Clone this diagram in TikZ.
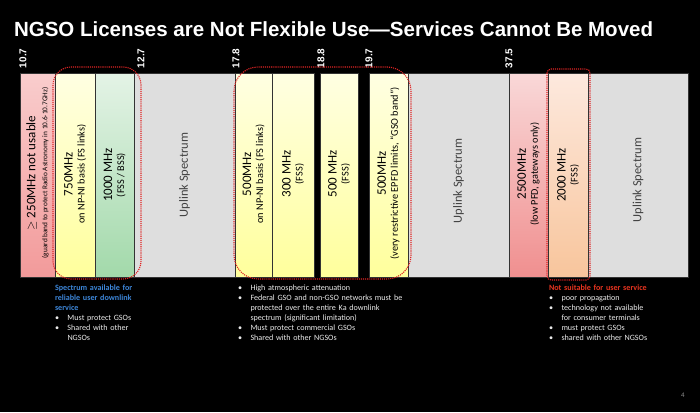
\documentclass[tikz,border=0pt]{standalone}
\usepackage{fontspec}
\setmainfont{Carlito}
\newfontfamily\arialfont{Liberation Sans}
\definecolor{guardtop}{HTML}{F9CDCD}
\definecolor{guardbot}{HTML}{F29A9A}
\definecolor{yeltop}{HTML}{FFFFE2}
\definecolor{yelbot}{HTML}{FFFF9C}
\definecolor{greentop}{HTML}{E4F3E6}
\definecolor{greenbot}{HTML}{A2D9AA}
\definecolor{uplink}{HTML}{DEDEDE}
\definecolor{gwtop}{HTML}{F9D8D8}
\definecolor{gwbot}{HTML}{F08F8F}
\definecolor{orntop}{HTML}{FDE9DE}
\definecolor{ornbot}{HTML}{F8C59C}
\definecolor{zonered}{HTML}{E02424}
\definecolor{headblue}{HTML}{3D86D8}
\definecolor{headred}{HTML}{E8341F}
\newcommand{\twoline}[2]{{\fontsize{13}{14}\selectfont #1}\\{\fontsize{10.3}{14}\selectfont #2}}
\newcommand{\bul}[1]{\hangindent=12.5pt\hangafter=1\noindent\hbox to 12.5pt{\textbullet\hfil}#1\par}
\begin{document}
\begin{tikzpicture}[x=1pt,y=-1pt]
  \tikzstyle{every node}=[inner sep=0pt, outer sep=0pt]
  \tikzstyle{band}=[rectangle, draw=black!80, line width=0.9pt, minimum height=204pt]
  \tikzstyle{bandtext}=[rotate=90, align=center, text=black]
  \tikzstyle{uptext}=[rotate=90, text=black!75, font=\fontsize{12.5}{14}\selectfont]
  \tikzstyle{tick}=[rotate=90, anchor=west, text=white, font=\arialfont\bfseries\fontsize{10}{12}\selectfont]
  \tikzstyle{zone}=[zonered, densely dotted, line width=1.1pt]
  \tikzstyle{notes}=[anchor=north west, align=left, text=white!92!black, font=\fontsize{8.1}{10}\selectfont]

  \useasboundingbox (0,0) rectangle (700,412);
  \fill[black] (0,0) rectangle (700,412);

  \node[anchor=base west, text=white, font=\arialfont\bfseries\fontsize{20.5}{22}\selectfont] (title) at (14,37)
    {NGSO Licenses are Not Flexible Use—Services Cannot Be Moved};

  % spectrum bands
  \node[band, minimum width=35pt, top color=guardtop, bottom color=guardbot] (guard) at (37.5,175) {};
  \node[band, minimum width=40pt, top color=yeltop, bottom color=yelbot] (fsa) at (75,175) {};
  \node[band, minimum width=39pt, top color=greentop, bottom color=greenbot] (fssa) at (114.5,175) {};
  \node[band, minimum width=101pt, fill=uplink] (upa) at (184.5,175) {};
  \node[band, minimum width=37pt, top color=yeltop, bottom color=yelbot] (npb) at (253.5,175) {};
  \node[band, minimum width=42pt, top color=yeltop, bottom color=yelbot] (fssb) at (293,175) {};
  \node[band, minimum width=38pt, top color=yeltop, bottom color=yelbot] (fssc) at (339,175) {};
  \node[band, minimum width=39pt, top color=yeltop, bottom color=yelbot] (gso) at (388.5,175) {};
  \node[band, minimum width=101pt, fill=uplink] (upb) at (458.5,175) {};
  \node[band, minimum width=39pt, top color=gwtop, bottom color=gwbot] (gw) at (528.5,175) {};
  \node[band, minimum width=40pt, top color=orntop, bottom color=ornbot] (fssd) at (568,175) {};
  \node[band, minimum width=100pt, fill=uplink] (upc) at (638,175) {};

  % band labels
  \node[bandtext, xshift=2pt] at (guard) {{\fontsize{13}{13}\selectfont $\geq$ 250MHz not usable}\\{\fontsize{7.3}{13}\selectfont (guard band to protect Radio Astronomy in 10.6-10.7GHz)}};
  \node[bandtext, xshift=1pt] at (fsa) {\twoline{750MHz}{on NP-NI basis (FS links)}};
  \node[bandtext] at (fssa) {\twoline{1000 MHz}{(FSS / BSS)}};
  \node[uptext] at (upa) {Uplink Spectrum};
  \node[bandtext, xshift=1pt] at (npb) {\twoline{500MHz}{on NP-NI basis (FS links)}};
  \node[bandtext, xshift=1pt] at (fssb) {\twoline{300 MHz}{(FSS)}};
  \node[bandtext, xshift=1pt] at (fssc) {\twoline{500 MHz}{(FSS)}};
  \node[bandtext, xshift=1.5pt] at (gso) {\twoline{500MHz}{(very restrictive EPFD limits, “GSO band”)}};
  \node[uptext, xshift=-6pt] at (upb) {Uplink Spectrum};
  \node[bandtext, xshift=1pt] at (gw) {\twoline{2500MHz}{(low PFD, gateways only)}};
  \node[bandtext] at (fssd) {\twoline{2000 MHz}{(FSS)}};
  \node[uptext, xshift=-5pt] at (upc) {Uplink Spectrum};

  % band edges in GHz
  \node[tick] (t107) at (23,68) {10.7};
  \node[tick] (t127) at (141,68) {12.7};
  \node[tick] (t178) at (236,68) {17.8};
  \node[tick] (t188) at (321,68) {18.8};
  \node[tick] (t197) at (369,68) {19.7};
  \node[tick] (t375) at (509,68) {37.5};

  % usable downlink groups
  \draw[zone, rounded corners=18pt] (53,67) rectangle (141,279);
  \draw[zone, rounded corners=24pt] (234,67) rectangle (411,279);
  \draw[zone, rounded corners=4pt] (547,69) rectangle (590,280);

  % notes under the bands
  \node[notes, text width=90pt] (noteku) at (55,285) {%
    {\color{headblue}\bfseries Spectrum available for\newline reliable user downlink\newline service}\par
    \bul{Must protect GSOs}
    \bul{Shared with other\newline NGSOs}};
  \node[notes, text width=180pt] (noteka) at (238,285) {%
    \bul{High atmospheric attenuation}
    \bul{Federal GSO and non-GSO networks must be\newline protected over the entire Ka downlink\newline spectrum (significant limitation)}
    \bul{Must protect commercial GSOs}
    \bul{Shared with other NGSOs}};
  \node[notes, text width=140pt] (noteq) at (549,285) {%
    {\color{headred}\bfseries Not suitable for user service}\par
    \bul{poor propagation}
    \bul{technology not available\newline for consumer terminals}
    \bul{must protect GSOs}
    \bul{shared with other NGSOs}};

  \node[text=black!45, font=\fontsize{7}{8}\selectfont] (page) at (683,395) {4};
\end{tikzpicture}
\end{document}
